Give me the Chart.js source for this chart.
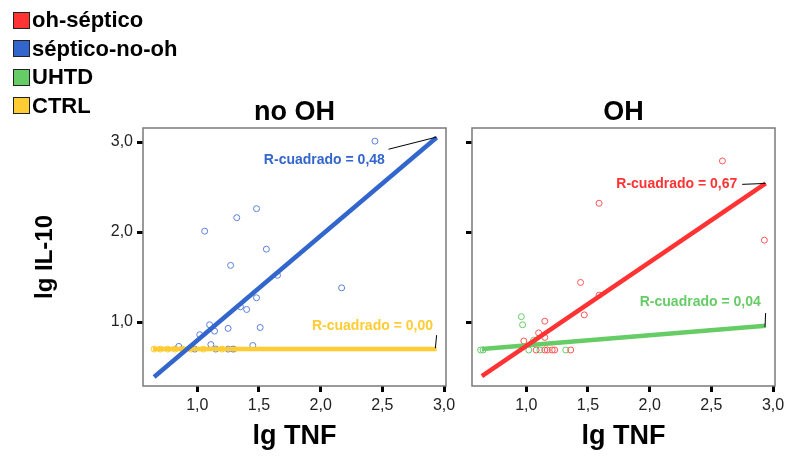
<!DOCTYPE html>
<html><head><meta charset="utf-8">
<script src="https://cdn.jsdelivr.net/npm/chart.js@4/dist/chart.umd.min.js"></script>
<style>
html,body{margin:0;padding:0;background:#fff;width:789px;height:456px;overflow:hidden;font-family:"Liberation Sans",Arial,sans-serif}
#wrapL{position:absolute;left:0;top:0;width:460px;height:456px}
#wrapR{position:absolute;left:460px;top:0;width:329px;height:456px}
#legend{position:absolute;left:13px;top:6px;z-index:5}
.li{display:flex;align-items:center;height:28.5px;font-weight:bold;font-size:22px;color:#000;white-space:nowrap}
.sw{width:17px;height:17px;border:1px solid #222;margin-right:2px;box-sizing:border-box}
</style></head>
<body>
<div id="wrapL"><canvas id="cL" width="460" height="456"></canvas></div>
<div id="wrapR"><canvas id="cR" width="329" height="456"></canvas></div>
<div id="legend"></div>
<script>
// ---- data ----
const seriesNames = ['oh-séptico','séptico-no-oh','UHTD','CTRL'];
const seriesColors = ['#ff3333','#3366cc','#66cc66','#ffcc33'];
const panelTitles = ['no OH','OH'];
const xTicks = [1.0,1.5,2.0,2.5,3.0];
const yTicks = [1.0,2.0,3.0];

// no OH panel
const septNoOhX = [1.06,1.32,1.48,1.56,2.44,2.17,1.27,1.65,1.48,1.35,1.40,1.10,1.14,1.25,1.51,1.02,0.85,1.11,1.45,1.15,1.25,1.29,0.98];
const septNoOhY = [2.01,2.16,2.26,1.81,3.01,1.38,1.63,1.52,1.27,1.17,1.14,0.97,0.90,0.93,0.94,0.86,0.73,0.75,0.74,0.70,0.70,0.70,0.70];
const ctrlX = [0.65,0.70,0.76,0.82,0.88,0.95,1.05,1.20,1.30];
const ctrlY = [0.70,0.70,0.70,0.70,0.70,0.70,0.70,0.70,0.70];
// OH panel
const ohSepX = [1.59,2.59,2.93,1.44,1.59,1.47,1.15,1.10,1.15,0.98,1.15,1.17,1.21,1.23,1.36,1.08];
const ohSepY = [2.32,2.79,1.91,1.44,1.30,1.08,1.01,0.88,0.83,0.79,0.69,0.69,0.69,0.69,0.69,0.69];
const uhtdX = [0.96,0.97,1.06,0.63,0.65,1.02,1.11,1.32];
const uhtdY = [1.06,0.97,0.80,0.69,0.69,0.69,0.69,0.69];

// fit lines (endpoints)
const fitSeptNoOhX = [0.65,2.94], fitSeptNoOhY = [0.39,3.05];
const fitCtrlX = [0.64,2.94],     fitCtrlY = [0.70,0.70];
const fitOhSepX = [0.64,2.94],    fitOhSepY = [0.40,2.54];
const fitUhtdX = [0.64,2.94],     fitUhtdY = [0.70,0.96];

const rsqTexts = ['R-cuadrado = 0,48','R-cuadrado = 0,00','R-cuadrado = 0,67','R-cuadrado = 0,04'];

// ---- helpers ----
const FONT = '"Liberation Sans", Arial, sans-serif';
const pts = (xs, ys) => xs.map((x,i)=>({x, y: ys[i]}));
const fmt = v => v.toFixed(1).replace('.', ',');

// legend
const lg = document.getElementById('legend');
seriesNames.forEach((n,i)=>{
  const d = document.createElement('div'); d.className='li';
  d.innerHTML = '<span class="sw" style="background:'+seriesColors[i]+'"></span><span>'+n+'</span>';
  lg.appendChild(d);
});

const framePlugin = {
  id:'frame',
  afterDraw(chart){
    const a = chart.chartArea, c = chart.ctx;
    c.save(); c.strokeStyle='#7a7a7a'; c.lineWidth=1.5;
    c.strokeRect(a.left, a.top, a.right-a.left, a.bottom-a.top);
    c.restore();
  }
};

function panelTitlePlugin(text){
  return {
    id:'panelTitle',
    afterDraw(chart){
      const a = chart.chartArea, c = chart.ctx;
      c.save();
      c.fillStyle='#000'; c.font='bold 27px '+FONT;
      c.textAlign='center'; c.textBaseline='middle';
      c.fillText(text, (a.left+a.right)/2, a.top-15);
      c.restore();
    }
  };
}

function rsqPlugin(items){
  return {
    id:'rsq',
    afterDatasetsDraw(chart){
      const xs = chart.scales.x, ys = chart.scales.y, c = chart.ctx;
      c.save();
      items.forEach(it=>{
        c.strokeStyle='#000'; c.lineWidth=1;
        c.beginPath();
        c.moveTo(xs.getPixelForValue(it.lead[0]), ys.getPixelForValue(it.lead[1]));
        c.lineTo(xs.getPixelForValue(it.lead[2]), ys.getPixelForValue(it.lead[3]));
        c.stroke();
        c.fillStyle = it.color;
        c.font = 'bold 14px ' + FONT;
        c.textAlign='center'; c.textBaseline='middle';
        c.fillText(it.text, xs.getPixelForValue(it.x), ys.getPixelForValue(it.y));
      });
      c.restore();
    }
  };
}

function makeChart(id, title, datasets, showYLabels, yWidth, items){
  return new Chart(document.getElementById(id), {
    type:'scatter',
    data:{datasets},
    options:{
      responsive:false, animation:false, devicePixelRatio:1, events:[],
      layout:{padding:{left:0,right:14,top:128,bottom:0}},
      plugins:{ legend:{display:false}, tooltip:{enabled:false}, title:{display:false} },
      scales:{
        x:{type:'linear', min:0.56, max:3.016,
          afterBuildTicks: s => { s.ticks = xTicks.map(v=>({value:v})); },
          afterFit: s => { s.height = 70; },
          ticks:{callback:v=>fmt(v), color:'#222', font:{family:FONT,size:16}, padding:4, maxRotation:0, autoSkip:false},
          grid:{drawOnChartArea:false, color:'#000', tickLength:6, tickWidth:3},
          border:{display:false},
          title:{display:true, text:'lg TNF', color:'#000', font:{family:FONT,size:27,weight:'bold'}, padding:{top:0,bottom:3}}
        },
        y:{type:'linear', min:0.29, max:3.156,
          afterBuildTicks: s => { s.ticks = yTicks.map(v=>({value:v})); },
          afterFit: s => { s.width = yWidth; },
          ticks:{display:showYLabels, callback:v=>fmt(v), color:'#222', font:{family:FONT,size:16}, padding:4},
          grid:{drawOnChartArea:false, color:'#000', tickLength:6, tickWidth:3},
          border:{display:false},
          title:{display:showYLabels, text:'lg IL-10', color:'#000', font:{family:FONT,size:24,weight:'bold'}, padding:{top:31,bottom:0}}
        }
      }
    },
    plugins:[framePlugin, panelTitlePlugin(title), rsqPlugin(items)]
  });
}

const lineDs = (xs, ys, col, order) => ({data:pts(xs,ys), showLine:true, borderColor:col, backgroundColor:col, borderWidth:4.5, pointRadius:0, order});
const ptDs = (xs, ys, col, order) => ({data:pts(xs,ys), showLine:false, borderColor:col, backgroundColor:'rgba(0,0,0,0)', pointBorderColor:col, pointBackgroundColor:'rgba(0,0,0,0)', pointRadius:3, pointBorderWidth:1, order});

makeChart('cL', panelTitles[0], [
  ptDs(ctrlX, ctrlY, '#ffcc33', 4),
  ptDs(septNoOhX, septNoOhY, '#5a80dd', 3),
  lineDs(fitCtrlX, fitCtrlY, seriesColors[3], 1),
  lineDs(fitSeptNoOhX, fitSeptNoOhY, seriesColors[1], 0)
], true, 143, [
  {text:rsqTexts[0], color:seriesColors[1], x:2.03, y:2.80, lead:[2.55,2.92,2.94,3.055]},
  {text:rsqTexts[1], color:seriesColors[3], x:2.42, y:0.955, lead:[2.94,0.855,2.93,0.71]}
]);

makeChart('cR', panelTitles[1], [
  ptDs(uhtdX, uhtdY, '#66cc66', 4),
  ptDs(ohSepX, ohSepY, '#ff5555', 3),
  lineDs(fitUhtdX, fitUhtdY, seriesColors[2], 1),
  lineDs(fitOhSepX, fitOhSepY, seriesColors[0], 0)
], false, 12, [
  {text:rsqTexts[2], color:seriesColors[0], x:2.22, y:2.53, lead:[2.75,2.53,2.94,2.54]},
  {text:rsqTexts[3], color:seriesColors[2], x:2.41, y:1.22, lead:[2.94,1.10,2.935,0.945]}
]);
</script>
</body></html>
